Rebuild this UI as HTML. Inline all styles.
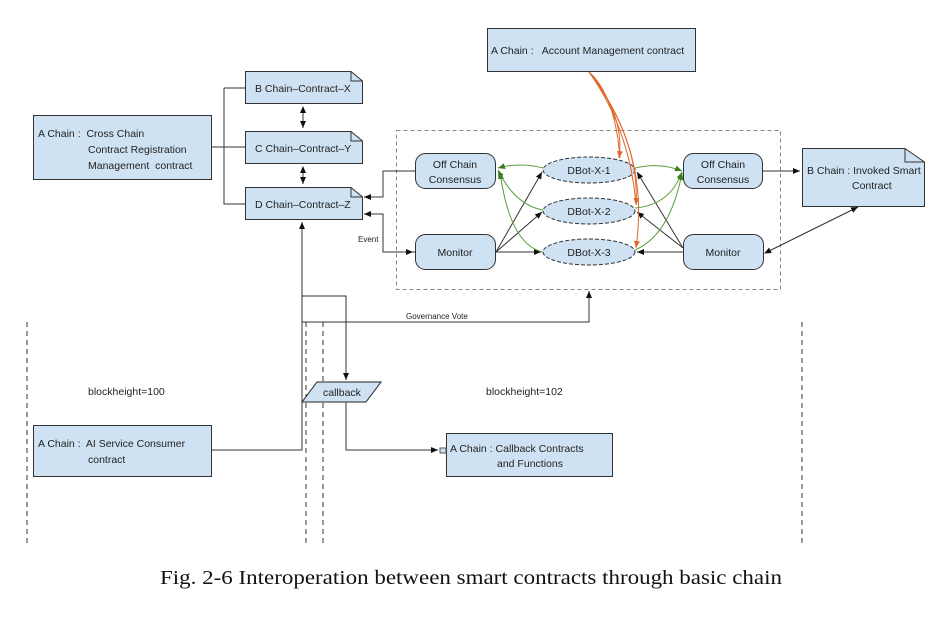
<!DOCTYPE html>
<html><head><meta charset="utf-8"><style>
body{margin:0;background:#fff;}
svg{display:block;font-family:"Liberation Sans",sans-serif;}
text{white-space:pre;}
.cap{font-family:"Liberation Serif",serif;font-size:19.5px;}
</style></head><body>
<svg width="950" height="621" viewBox="0 0 950 621" xmlns="http://www.w3.org/2000/svg">
<defs>
<marker id="a" markerWidth="8" markerHeight="8" refX="7" refY="4" orient="auto" markerUnits="userSpaceOnUse"><path d="M0,1 L7,4 L0,7 z" fill="#111"/></marker>
<marker id="as" markerWidth="8" markerHeight="8" refX="1" refY="4" orient="auto" markerUnits="userSpaceOnUse"><path d="M7,1 L0,4 L7,7 z" fill="#111"/></marker>
<marker id="g" markerWidth="8" markerHeight="8" refX="7" refY="4" orient="auto" markerUnits="userSpaceOnUse"><path d="M0,1 L7,4 L0,7 z" fill="#3a7d1e"/></marker>
<marker id="o" markerWidth="8" markerHeight="8" refX="7" refY="4" orient="auto" markerUnits="userSpaceOnUse"><path d="M0,1 L7,4 L0,7 z" fill="#e0662a"/></marker>
</defs>
<g font-size="10.5" fill="#222">
<g stroke="#333" stroke-dasharray="5,4" stroke-width="1">
<line x1="27" y1="322" x2="27" y2="545"/><line x1="306" y1="322" x2="306" y2="545"/>
<line x1="323" y1="322" x2="323" y2="545"/><line x1="802" y1="322" x2="802" y2="545"/>
</g>
<rect x="396.5" y="130.5" width="384" height="159" fill="none" stroke="#888" stroke-dasharray="4,3"/>

<rect x="487.5" y="28.5" width="208" height="43" fill="#cfe2f3" stroke="#333"/>
<text x="491" y="54">A Chain :   Account Management contract</text>
<rect x="33.5" y="115.5" width="178" height="64" fill="#cfe2f3" stroke="#333"/>
<text x="38" y="137">A Chain :  Cross Chain</text>
<text x="88" y="153">Contract Registration</text>
<text x="88" y="169">Management  contract</text>

<g fill="#cfe2f3" stroke="#333">
<path d="M245.5,71.5 H351 L362.5,81 V103.5 H245.5 Z"/>
<path d="M245.5,131.5 H351 L362.5,141 V163.5 H245.5 Z"/>
<path d="M245.5,187.5 H351 L362.5,197 V219.5 H245.5 Z"/>
<path d="M802.5,148.5 H905 L924.5,162 V206.5 H802.5 Z"/>
</g>
<g fill="none" stroke="#333"><path d="M351,71.5 V81 H362.5"/><path d="M351,131.5 V141 H362.5"/><path d="M351,187.5 V197 H362.5"/><path d="M905,148.5 V162 H924.5"/></g>
<text x="255" y="92">B Chain–Contract–X</text>
<text x="255" y="152">C Chain–Contract–Y</text>
<text x="255" y="208">D Chain–Contract–Z</text>
<text x="807" y="174">B Chain : Invoked Smart</text>
<text x="852" y="189">Contract</text>

<rect x="33.5" y="425.5" width="178" height="51" fill="#cfe2f3" stroke="#333"/>
<text x="38" y="447">A Chain :  AI Service Consumer</text>
<text x="88" y="463">contract</text>
<rect x="446.5" y="433.5" width="166" height="43" fill="#cfe2f3" stroke="#333"/>
<rect x="440" y="448" width="6" height="5" fill="#cfe2f3" stroke="#555"/>
<text x="450" y="452">A Chain : Callback Contracts</text>
<text x="497" y="467">and Functions</text>

<path d="M317,382 H381 L366,402 H302 Z" fill="#cfe2f3" stroke="#222"/>
<text x="323" y="396">callback</text>

<g fill="#cfe2f3" stroke="#333">
<rect x="415.5" y="153.5" width="80" height="35" rx="10"/>
<rect x="415.5" y="234.5" width="80" height="35" rx="10"/>
<rect x="683.5" y="153.5" width="79" height="35" rx="10"/>
<rect x="683.5" y="234.5" width="80" height="35" rx="10"/>
</g>
<text x="455" y="168" text-anchor="middle">Off Chain</text><text x="455" y="183" text-anchor="middle">Consensus</text>
<text x="455" y="256" text-anchor="middle">Monitor</text>
<text x="723" y="168" text-anchor="middle">Off Chain</text><text x="723" y="183" text-anchor="middle">Consensus</text>
<text x="723" y="256" text-anchor="middle">Monitor</text>

<g fill="#cfe2f3" stroke="#333" stroke-dasharray="4,2">
<ellipse cx="589" cy="170" rx="46" ry="13"/>
<ellipse cx="589" cy="211" rx="46" ry="13"/>
<ellipse cx="589" cy="252" rx="46" ry="13"/>
</g>
<text x="589" y="174" text-anchor="middle">DBot-X-1</text>
<text x="589" y="215" text-anchor="middle">DBot-X-2</text>
<text x="589" y="256" text-anchor="middle">DBot-X-3</text>

<g stroke="#333" fill="none" stroke-width="1">
<path d="M224,88 H245 M224,88 V204 H245 M211,147 H245"/>
<line x1="303" y1="107" x2="303" y2="128" marker-end="url(#a)" marker-start="url(#as)"/>
<line x1="303" y1="167" x2="303" y2="184" marker-end="url(#a)" marker-start="url(#as)"/>
<path d="M415,171 H383 V197 H364" marker-end="url(#a)"/>
<path d="M415,252 H383 V214 H364" marker-end="url(#a)"/>
<path d="M383,252 H413" marker-end="url(#a)"/>
<path d="M211,450 H302 V222" marker-end="url(#a)"/>
<path d="M302,296 H346 V380" marker-end="url(#a)"/>
<path d="M302,322 H589 V291" marker-end="url(#a)"/>
<path d="M346,402 V450 H438" marker-end="url(#a)"/>
<path d="M496,252 L542,172" marker-end="url(#a)"/>
<path d="M496,252 L542,212" marker-end="url(#a)"/>
<path d="M496,252 L541,252" marker-end="url(#a)"/>
<path d="M683,248 L637,172" marker-end="url(#a)"/>
<path d="M683,248 L637,212" marker-end="url(#a)"/>
<path d="M683,252 L637,252" marker-end="url(#a)"/>
<path d="M762,171 H800" marker-end="url(#a)"/>
<line x1="765" y1="253" x2="858" y2="207" marker-end="url(#a)" marker-start="url(#as)"/>
</g>
<g stroke="#5a9e3a" fill="none" stroke-width="1">
<path d="M543,168 Q520,162 498,168" marker-end="url(#g)"/>
<path d="M543,210 Q515,205 498,170" marker-end="url(#g)"/>
<path d="M543,252 Q510,245 500,172" marker-end="url(#g)"/>
<path d="M635,168 Q660,162 682,171" marker-end="url(#g)"/>
<path d="M635,208 Q670,205 682,172" marker-end="url(#g)"/>
<path d="M635,250 Q670,235 682,173" marker-end="url(#g)"/>
</g>
<g stroke="#e0662a" fill="none" stroke-width="1">
<path d="M589,72 Q625,115 619,158" marker-end="url(#o)"/>
<path d="M589,72 Q615,95 620,158"/>
<path d="M589,72 Q640,140 636,205" marker-end="url(#o)"/>
<path d="M589,72 Q630,130 636,205"/>
<path d="M589,72 Q650,150 636,248" marker-end="url(#o)"/>
</g>
<text x="358" y="242" font-size="8">Event</text>
<text x="406" y="319" font-size="8">Governance Vote</text>
<text x="88" y="395">blockheight=100</text>
<text x="486" y="395">blockheight=102</text>
</g>
<text class="cap" x="160" y="584" textLength="622" lengthAdjust="spacingAndGlyphs" fill="#111">Fig. 2-6 Interoperation between smart contracts through basic chain</text>
</svg>
</body></html>
